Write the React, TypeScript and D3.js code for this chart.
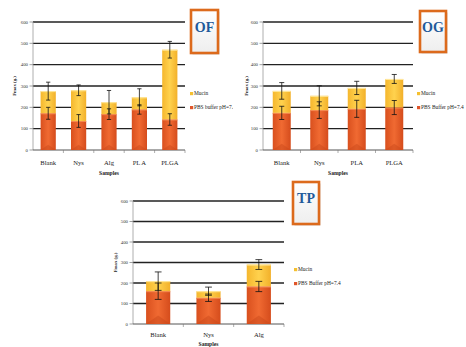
import React from "react";
import * as d3 from "d3";

const yTicks = [0, 100, 200, 300, 400, 500, 600];

const ofCategories = ["Blank", "Nys", "Alg", "PL A", "PLGA"];
const ofPbs = [172, 136, 168, 190, 143];
const ofPbsErr = [28, 30, 25, 22, 27];
const ofMucin = [104, 144, 56, 57, 327];
const ofMucinErr = [42, 25, 55, 40, 39];

const ogCategories = ["Blank", "Nys", "PLA", "PLGA"];
const ogPbs = [174, 187, 193, 199];
const ogPbsErr = [31, 39, 40, 33];
const ogMucin = [103, 67, 98, 134];
const ogMucinErr = [39, 47, 31, 21];

const tpCategories = ["Blank", "Nys", "Alg"];
const tpPbs = [160, 128, 183];
const tpPbsErr = [40, 18, 25];
const tpMucin = [49, 32, 107];
const tpMucinErr = [45, 20, 24];

type PanelProps = {
  id: string;
  title: string;
  pbsLabel: string;
  categories: string[];
  pbs: number[];
  pbsErr: number[];
  mucin: number[];
  mucinErr: number[];
  x0: number;
  x1: number;
  yTop: number;
  yBot: number;
  pad: number;
  legendX: number;
  legendY: number;
  legendGap: number;
  box: [number, number, number, number];
  samplesY: number;
  labelY: number;
  yLabelX: number;
  clip?: boolean;
};

function Panel(p: PanelProps) {
  const x = d3.scaleBand<string>().domain(p.categories).range([p.x0, p.x1]).paddingInner(p.pad).paddingOuter(p.pad / 2);
  const y = d3.scaleLinear().domain([0, 600]).range([p.yBot, p.yTop]);
  const bw = x.bandwidth();
  const cap = Math.max(2, bw * 0.14);
  const [bx, by, bW, bH] = p.box;
  const step = x.step();
  const content = (
    <g>
      {yTicks.filter((t) => t > 0).map((t) => (
        <line key={t} x1={p.x0} x2={p.x1} y1={y(t)} y2={y(t)} stroke="#222" strokeWidth={1.4} />
      ))}
      <line x1={p.x0} x2={p.x0} y1={p.yTop} y2={p.yBot} stroke="#999" strokeWidth={0.8} />
      <line x1={p.x0} x2={p.x1} y1={p.yBot} y2={p.yBot} stroke="#555" strokeWidth={1} />
      {yTicks.map((t) => (
        <g key={t}>
          <line x1={p.x0 - 3.5} x2={p.x0} y1={y(t)} y2={y(t)} stroke="#777" strokeWidth={0.7} />
          <text x={p.x0 - 5} y={y(t) + 1.6} fontSize={4.8} textAnchor="end" fill="#333" fontFamily="Liberation Serif">{t}</text>
        </g>
      ))}
      {p.categories.map((c, i) => (
        <line key={"xt" + i} x1={p.x0 + step * (i + 1)} x2={p.x0 + step * (i + 1)} y1={p.yBot} y2={p.yBot + 3} stroke="#777" strokeWidth={0.6} />
      ))}
      {p.categories.map((c, i) => {
        const bx0 = x(c)!;
        const pTop = y(p.pbs[i]);
        const tot = p.pbs[i] + p.mucin[i];
        const mTop = y(tot);
        const cx = bx0 + bw / 2;
        return (
          <g key={c}>
            <rect x={bx0} y={pTop} width={bw} height={p.yBot - pTop} fill={`url(#or-${p.id})`} />
            <polygon points={`${bx0},${p.yBot} ${bx0 + bw},${p.yBot} ${cx},${p.yBot - bw * 0.35}`} fill="#c8461a" opacity={0.45} />
            <rect x={bx0} y={mTop} width={bw} height={pTop - mTop} fill={`url(#ye-${p.id})`} />
            <line x1={bx0} x2={bx0 + bw} y1={mTop + 0.5} y2={mTop + 0.5} stroke="#ffe9a0" strokeWidth={1} />
            <line x1={bx0} x2={bx0 + bw} y1={pTop + 0.5} y2={pTop + 0.5} stroke="#f58a50" strokeWidth={1} />
            {[
              [tot, p.mucinErr[i]],
              [p.pbs[i], p.pbsErr[i]],
            ].map(([v, e], k) => (
              <g key={k} stroke="#111" strokeWidth={0.8}>
                <line x1={cx} x2={cx} y1={y(v + e)} y2={y(v - e)} />
                <line x1={cx - cap} x2={cx + cap} y1={y(v + e)} y2={y(v + e)} />
                <line x1={cx - cap} x2={cx + cap} y1={y(v - e)} y2={y(v - e)} />
              </g>
            ))}
            <text x={cx} y={p.labelY} fontSize={6.6} textAnchor="middle" fill="#222" fontFamily="Liberation Serif">{c}</text>
          </g>
        );
      })}
      <text x={(p.x0 + p.x1) / 2} y={p.samplesY} fontSize={5.6} textAnchor="middle" fontWeight="bold" fill="#222" fontFamily="Liberation Serif">Samples</text>
      <text transform={`translate(${p.yLabelX},${(p.yTop + p.yBot) / 2}) rotate(-90)`} fontSize={4.8} textAnchor="middle" fontWeight="bold" fill="#222" fontFamily="Liberation Serif">Fmax  (g.)</text>
      <rect x={p.legendX} y={p.legendY - 3} width={3.2} height={3.2} fill="#f5c030" />
      <text x={p.legendX + 4} y={p.legendY} fontSize={5.4} fill="#222" fontFamily="Liberation Serif">Mucin</text>
      <rect x={p.legendX} y={p.legendY + p.legendGap - 3} width={3.2} height={3.2} fill="#e0552a" />
      <text x={p.legendX + 4} y={p.legendY + p.legendGap} fontSize={5.4} fill="#222" fontFamily="Liberation Serif">{p.pbsLabel}</text>
      <rect x={bx + 1.5} y={by + 1.5} width={bW} height={bH} fill="#bbb" opacity={0.6} />
      <rect x={bx} y={by} width={bW} height={bH} fill={`url(#box-${p.id})`} stroke="#dc6a1c" strokeWidth={2.6} />
      <text x={bx + bW / 2} y={by + bH * 0.5} fontSize={14} fontWeight="bold" textAnchor="middle" fill="#1f5a9a" fontFamily="Liberation Serif">{p.title}</text>
    </g>
  );
  return (
    <g>
      <defs>
        <linearGradient id={`or-${p.id}`} x1="0" x2="1" y1="0" y2="0">
          <stop offset="0" stopColor="#d9501e" />
          <stop offset="0.5" stopColor="#f06a32" />
          <stop offset="1" stopColor="#d54c1c" />
        </linearGradient>
        <linearGradient id={`ye-${p.id}`} x1="0" x2="1" y1="0" y2="0">
          <stop offset="0" stopColor="#f5b72e" />
          <stop offset="0.5" stopColor="#ffd24e" />
          <stop offset="1" stopColor="#f2b02a" />
        </linearGradient>
        <linearGradient id={`box-${p.id}`} x1="0" x2="0" y1="0" y2="1">
          <stop offset="0" stopColor="#ffffff" />
          <stop offset="1" stopColor="#eeeeee" />
        </linearGradient>
        <clipPath id={`clip-${p.id}`}>
          <rect x={0} y={0} width={233} height={347} />
        </clipPath>
      </defs>
      {p.clip ? <g clipPath={`url(#clip-${p.id})`}>{content}</g> : content}
    </g>
  );
}

export default function App() {
  return (
    <svg width={466} height={347} style={{ position: "absolute", left: 0, top: 0, background: "#fff" }}>
      <Panel id="of" title="OF" pbsLabel="PBS buffer pH=7.4" categories={ofCategories} pbs={ofPbs} pbsErr={ofPbsErr}
        mucin={ofMucin} mucinErr={ofMucinErr} x0={33} x1={185} yTop={22} yBot={150} pad={0.5}
        legendX={190} legendY={95} legendGap={14} box={[191, 10, 27, 43]} samplesY={175} labelY={165} yLabelX={16} clip />
      <Panel id="og" title="OG" pbsLabel="PBS Buffer pH=7.4" categories={ogCategories} pbs={ogPbs} pbsErr={ogPbsErr}
        mucin={ogMucin} mucinErr={ogMucinErr} x0={263} x1={413} yTop={22} yBot={150} pad={0.52}
        legendX={417} legendY={95} legendGap={14} box={[420, 11, 26, 41]} samplesY={175} labelY={165} yLabelX={248} />
      <Panel id="tp" title="TP" pbsLabel="PBS Buffer pH=7.4" categories={tpCategories} pbs={tpPbs} pbsErr={tpPbsErr}
        mucin={tpMucin} mucinErr={tpMucinErr} x0={133} x1={284} yTop={201} yBot={324} pad={0.52}
        legendX={294} legendY={271} legendGap={14} box={[293, 182, 26, 42]} samplesY={345.5} labelY={337} yLabelX={117} />
    </svg>
  );
}
